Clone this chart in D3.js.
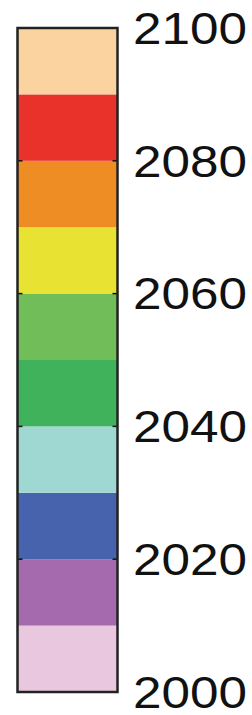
<!DOCTYPE html>
<html>
<head>
<meta charset="utf-8">
<script src="https://cdn.jsdelivr.net/npm/d3@7"></script>
<style>
  html, body { margin: 0; padding: 0; background: #fff; }
  svg { display: block; }
</style>
</head>
<body>
<script>
// colour bands, bottom (2000) to top (2100)
const bandEdges = [2000, 2010, 2020, 2030, 2040, 2050, 2060, 2070, 2080, 2090, 2100];
const bandColors = ["#e9c7de", "#a46aad", "#4763ad", "#9fd8d2", "#40b25b", "#70bd5a", "#e8e232", "#ef8d25", "#e8322a", "#fbd3a1"];
const tickValues = [2000, 2020, 2040, 2060, 2080, 2100];

const width = 252, height = 715;
const bar = { left: 17.5, right: 117.5, top: 28, bottom: 692 };

const svg = d3.select('body')
  .append('svg')
  .attr('width', width)
  .attr('height', height);

const yScale = d3.scaleLinear()
  .domain([2000, 2100])
  .range([bar.bottom, bar.top]);

const bands = bandColors.map((c, i) => ({ lo: bandEdges[i], hi: bandEdges[i + 1], color: c }));

svg.append('g')
  .selectAll('rect')
  .data(bands)
  .enter()
  .append('rect')
  .attr('x', bar.left)
  .attr('width', bar.right - bar.left)
  .attr('y', d => yScale(d.hi))
  .attr('height', d => yScale(d.lo) - yScale(d.hi))
  .attr('fill', d => d.color);

// inward ticks on both sides
const tickLen = 5;
const ticks = svg.append('g')
  .attr('stroke', '#111')
  .attr('stroke-width', 1.5);
ticks.selectAll('line.l')
  .data(tickValues)
  .enter()
  .append('line')
  .attr('x1', bar.left).attr('x2', bar.left + tickLen)
  .attr('y1', d => yScale(d)).attr('y2', d => yScale(d));
ticks.selectAll('line.r')
  .data(tickValues)
  .enter()
  .append('line')
  .attr('x1', bar.right - tickLen).attr('x2', bar.right)
  .attr('y1', d => yScale(d)).attr('y2', d => yScale(d));

// outline
svg.append('rect')
  .attr('x', bar.left)
  .attr('y', bar.top)
  .attr('width', bar.right - bar.left)
  .attr('height', bar.bottom - bar.top)
  .attr('fill', 'none')
  .attr('stroke', '#222')
  .attr('stroke-width', 2.5);

// labels
svg.append('g')
  .selectAll('text')
  .data(tickValues)
  .enter()
  .append('text')
  .attr('x', 133)
  .attr('y', d => yScale(d))
  .attr('dy', '0.36em')
  .attr('font-family', '"Liberation Sans", Arial, sans-serif')
  .attr('font-size', 44)
  .attr('fill', '#111')
  .attr('textLength', 114)
  .attr('lengthAdjust', 'spacingAndGlyphs')
  .text(d => d);
</script>
</body>
</html>
